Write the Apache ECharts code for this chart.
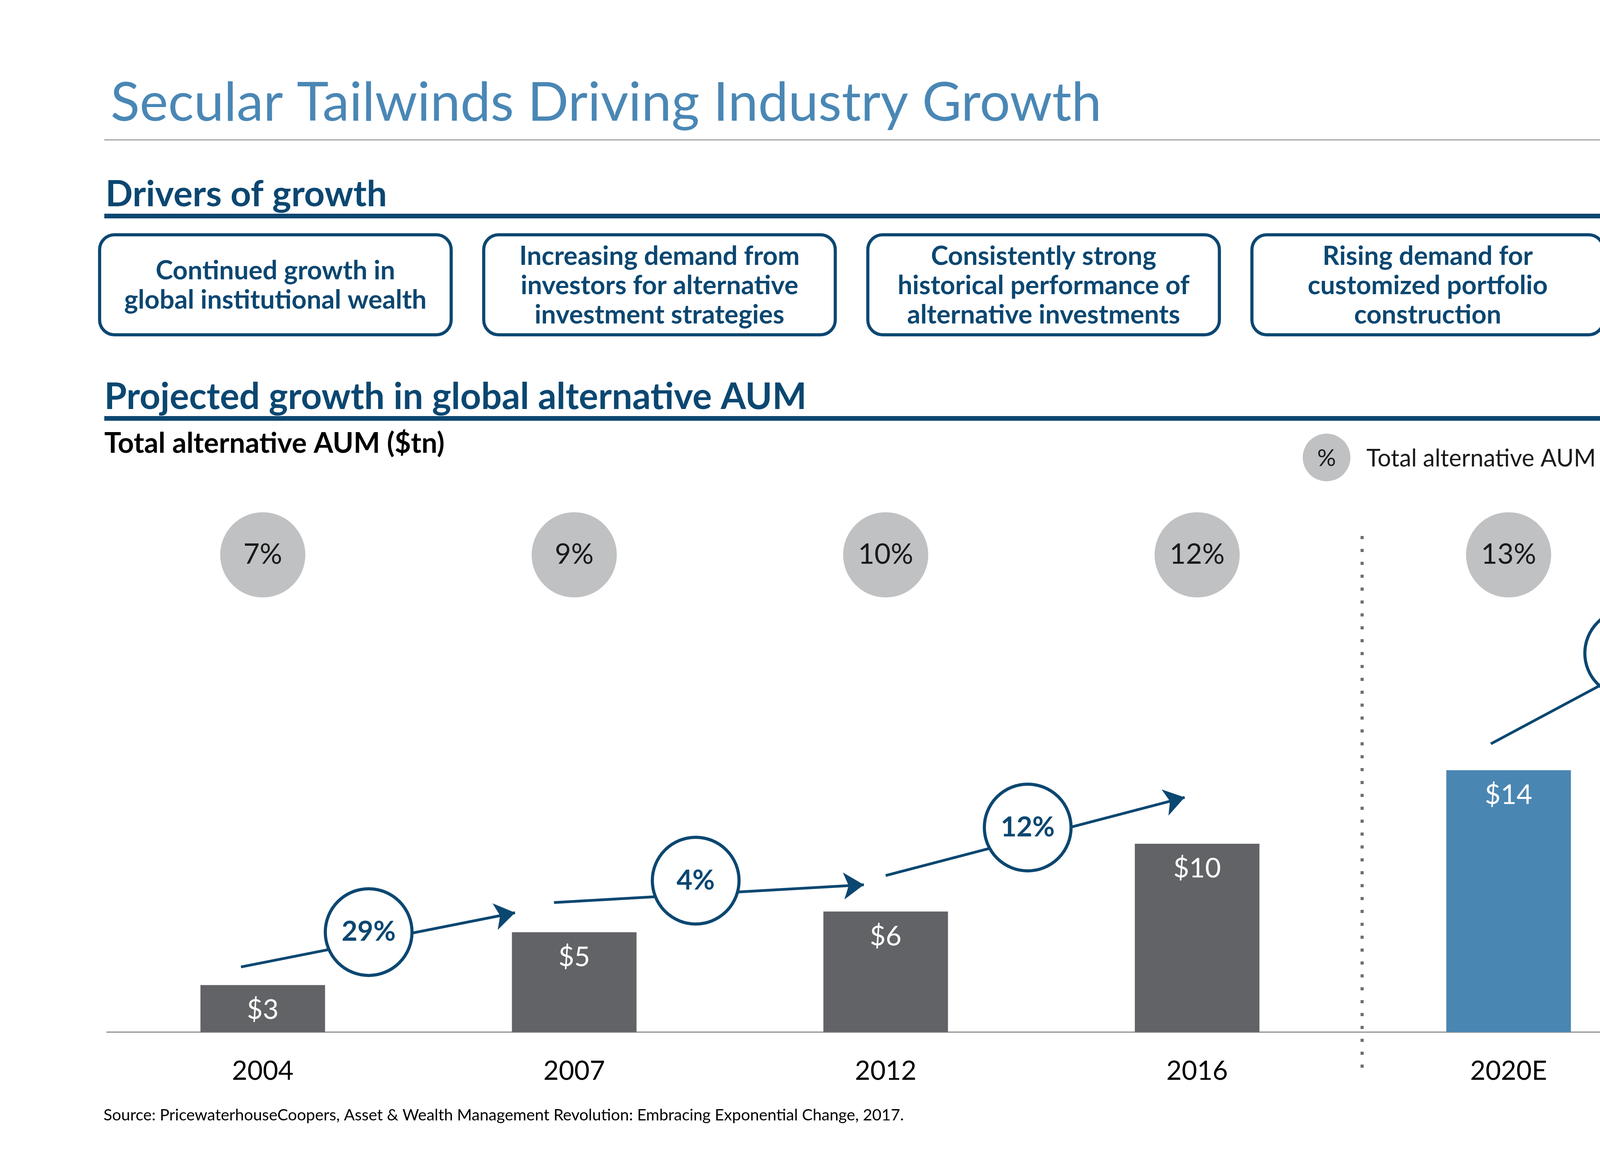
<!DOCTYPE html>
<html>
<head>
<meta charset="utf-8">
<title>Secular Tailwinds Driving Industry Growth</title>
<script src="https://cdn.jsdelivr.net/npm/echarts@6/dist/echarts.min.js"></script>
<style>
  html, body { margin: 0; padding: 0; background: #fff; overflow: hidden; }
  #chart { width: 5334px; height: 3000px; }
</style>
</head>
<body>
<div id="chart"></div>
<script>
// Chart data
const years = ['2004', '2007', '2012', '2016', '2020E', '2025E'];
const aumTn = [2.5, 5.3, 6.4, 10.0, 13.9, 21.0];
const isEstimate = [false, false, false, false, true, true];
const shareOfGlobal = [7, 9, 10, 12, 13, 15];
const cagrPct = [29, 4, 12, 9];

const drivers = [
    'Continued growth in\nglobal institutional wealth',
    'Increasing demand from\ninvestors for alternative\ninvestment strategies',
    'Consistently strong\nhistorical performance of\nalternative investments',
    'Rising demand for\ncustomized portfolio\nconstruction',
    'Diversification benefits of a\nmulti-asset class portfolio'
];

// Layout of the CAGR arrows (in axis units: x = category index, y = $tn)
const arrowLayout = [
    { from: [-0.07, 3.46], to: [0.81, 6.34], badge: [0.34, 5.31] },
    { from: [0.935, 6.88], to: [1.93, 7.82], badge: [1.39, 8.04] },
    { from: [2.0, 8.31], to: [2.96, 12.46], badge: [2.456, 10.86] },
    { from: [3.943, 15.3], to: [4.862, 23.42], badge: [4.384, 20.11] }
];
const SHARE_ROW_Y = 25.33;

const NAVY = '#0B4771';
const FONT = 'Lato, "Open Sans", sans-serif';

const chart = echarts.init(document.getElementById('chart'), null, { renderer: 'canvas' });

function txt(text, x, y, size, color, weight, align, extra) {
    return Object.assign({
        type: 'text',
        style: {
            text: text, x: x, y: y,
            fill: color,
            font: (weight || 'normal') + ' ' + size + 'px ' + FONT,
            align: align || 'left', textAlign: align || 'left',
            verticalAlign: 'middle', textVerticalAlign: 'middle'
        },
        silent: true
    }, extra || {});
}

function buildGraphics() {
    const els = [];
    // Header
    els.push(txt('Secular Tailwinds Driving Industry Growth', 283, 264, 138, '#4A87B5'));
    els.push({ type: 'line', shape: { x1: 267, y1: 358, x2: 5104, y2: 358 }, style: { stroke: '#A0A0A0', lineWidth: 3 } });
    els.push(txt('Drivers of growth', 270, 498, 92, NAVY, 'bold'));
    els.push({ type: 'rect', shape: { x: 267, y: 547, width: 4837, height: 12 }, style: { fill: NAVY } });

    // Driver boxes
    drivers.forEach((d, i) => {
        const x = 255 + i * 983.3;
        els.push({
            type: 'rect',
            shape: { x: x, y: 601, width: 900, height: 256, r: 38 },
            style: { fill: '#fff', stroke: NAVY, lineWidth: 8 }
        });
        const t = txt(d, x + 450, 731, 67, NAVY, 'bold', 'center');
        t.style.lineHeight = 75;
        els.push(t);
    });

    els.push(txt('Projected growth in global alternative AUM', 267, 1017, 93, NAVY, 'bold'));
    els.push({ type: 'rect', shape: { x: 267, y: 1065, width: 4837, height: 12 }, style: { fill: NAVY } });
    els.push(txt('Total alternative AUM ($tn)', 267, 1136, 72, '#000', 'bold'));

    // Legend
    els.push({ type: 'circle', shape: { cx: 3396, cy: 1171, r: 61 }, style: { fill: '#C0C1C3' } });
    els.push(txt('%', 3396, 1174, 60, '#1A1A1A', 'normal', 'center'));
    els.push(txt('Total alternative AUM share of global AUM', 3498, 1174, 61, '#1A1A1A'));
    els.push({ type: 'circle', shape: { cx: 4788, cy: 1171, r: 58 }, style: { fill: '#fff', stroke: NAVY, lineWidth: 7 } });
    els.push(txt('%', 4788, 1174, 60, NAVY, 'bold', 'center'));
    els.push(txt('CAGR', 4892, 1174, 60, '#1A1A1A'));

    // Historical / projected divider
    els.push({
        type: 'line', z: 1,
        shape: { x1: 3487, y1: 1372, x2: 3487, y2: 2740 },
        style: { stroke: '#6F6F6F', lineWidth: 8, lineDash: [8, 25] }
    });
    // axis line runs a little past the last band
    els.push({ type: 'line', shape: { x1: 5050, y1: 2642, x2: 5097, y2: 2642 }, style: { stroke: '#A6A6A6', lineWidth: 4 } });

    // Footer
    els.push(txt('Source: PricewaterhouseCoopers, Asset & Wealth Management Revolution: Embracing Exponential Change, 2017.', 265, 2855, 41, '#000'));
    els.push(txt('22', 4959, 2872, 46, '#9A9A9A', 'normal', 'center'));
    return els;
}

const option = {
    backgroundColor: '#fff',
    animation: false,
    grid: { left: 274, right: 276, top: 1195, bottom: 358 },
    xAxis: [
        {
            type: 'category',
            data: years,
            axisLine: { lineStyle: { color: '#A6A6A6', width: 4 } },
            axisTick: { show: false },
            axisLabel: { color: '#000', fontFamily: FONT, fontSize: 68, margin: 66 }
        },
        { type: 'value', min: -0.5, max: 5.5, show: false }
    ],
    yAxis: { type: 'value', min: 0, max: 30, show: false, splitLine: { show: false } },
    graphic: { elements: buildGraphics() },
    series: [
        {
            name: 'Total alternative AUM',
            type: 'bar',
            xAxisIndex: 0,
            barWidth: 319,
            data: aumTn.map((v, i) => ({
                value: v,
                itemStyle: { color: isEstimate[i] ? '#4A86B2' : '#626366' }
            })),
            label: {
                show: true,
                position: 'insideTop',
                distance: 29,
                color: '#fff',
                fontFamily: FONT,
                fontSize: 70,
                formatter: p => '$' + Math.round(p.value)
            },
            z: 2
        },
        {
            name: 'Share of global AUM',
            type: 'scatter',
            xAxisIndex: 0,
            symbol: 'circle',
            symbolSize: 218,
            data: shareOfGlobal.map((s, i) => [i, SHARE_ROW_Y]),
            itemStyle: { color: '#C0C1C3', opacity: 1 },
            label: {
                show: true,
                position: 'inside',
                color: '#1A1A1A',
                fontFamily: FONT,
                fontSize: 72,
                formatter: p => shareOfGlobal[p.dataIndex] + '%'
            },
            z: 2
        },
        {
            name: 'CAGR arrows',
            type: 'lines',
            coordinateSystem: 'cartesian2d',
            xAxisIndex: 1,
            yAxisIndex: 0,
            symbol: ['none', 'arrow'],
            symbolSize: [0, 52],
            lineStyle: { color: NAVY, width: 7, opacity: 1 },
            data: arrowLayout.map(a => ({ coords: [a.from, a.to] })),
            z: 3
        },
        {
            name: 'CAGR',
            type: 'scatter',
            xAxisIndex: 1,
            symbol: 'circle',
            symbolSize: 222,
            data: arrowLayout.map(a => a.badge),
            itemStyle: { color: '#fff', borderColor: NAVY, borderWidth: 8, opacity: 1 },
            label: {
                show: true,
                position: 'inside',
                color: NAVY,
                fontFamily: FONT,
                fontWeight: 'bold',
                fontSize: 70,
                formatter: p => cagrPct[p.dataIndex] + '%'
            },
            z: 4
        }
    ]
};

chart.setOption(option);
</script>
</body>
</html>
